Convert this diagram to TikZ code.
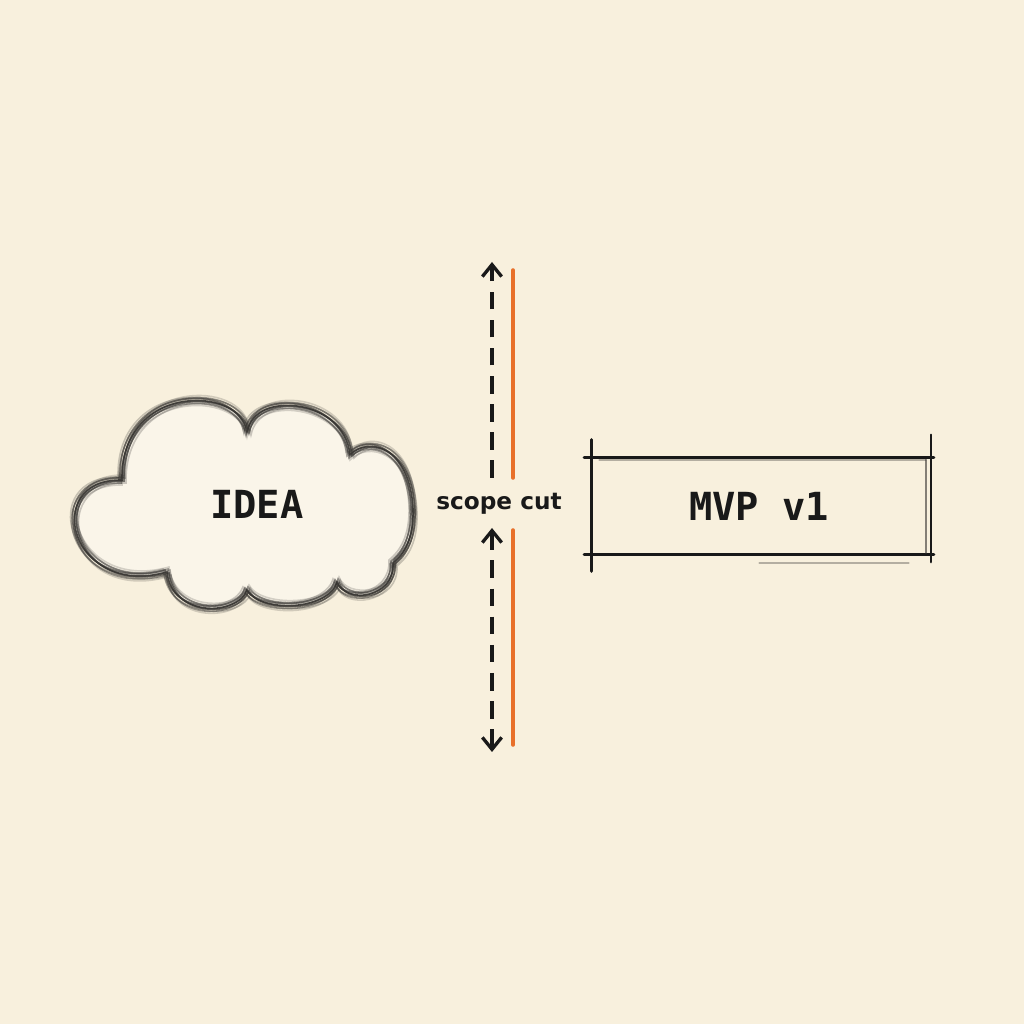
\documentclass[tikz,border=0pt]{standalone}
\usepackage{fontspec}
\usetikzlibrary{arrows.meta}
\newfontfamily\monofont{DejaVu Sans Mono}
\newfontfamily\labelfont{DejaVu Sans}
\definecolor{paper}{RGB}{248,240,221}
\definecolor{ink}{RGB}{25,25,25}
\definecolor{pencil}{RGB}{55,53,50}
\definecolor{cut}{RGB}{232,112,42}
\definecolor{cloudfill}{RGB}{250,245,233}
\tikzset{
  sketch/.style={draw=pencil, line width=0.45pt, line cap=round},
  faint/.style={draw=pencil, line width=0.5pt, opacity=0.35, line cap=round},
  boxline/.style={draw=ink, line width=0.9pt, line cap=round},
  dimarrow/.style={draw=ink, line width=0.95pt, dash pattern=on 5pt off 3pt},
  barbtip/.tip={Straight Barb[length=3.4pt,width=5.5pt,line width=0.95pt]},
  cutline/.style={draw=cut, line width=1pt, line cap=round},
  bigtext/.style={font=\monofont\bfseries\fontsize{11}{13}\selectfont, text=ink},
  smalltext/.style={font=\labelfont\bfseries\fontsize{6.6}{8}\selectfont, text=ink},
}
\def\cloudpath{(122,544) .. controls (120,640) and (240,640) .. (247,592)
  .. controls (255,635) and (345,625) .. (350,569)
  .. controls (368,588) and (410,578) .. (413,515)
  .. controls (414,485) and (404,470) .. (393,461)
  .. controls (395,425) and (345,420) .. (337,442)
  .. controls (328,412) and (258,412) .. (247,434)
  .. controls (238,408) and (172,406) .. (167,452)
  .. controls (70,425) and (40,545) .. cycle}
\begin{document}
\begin{tikzpicture}[x=0.01cm,y=0.01cm]
\fill[paper] (0,0) rectangle (1024,1024);
\useasboundingbox (0,0) rectangle (1024,1024);
% cloud
\fill[cloudfill] \cloudpath;
\foreach \dx/\dy/\op in {0/0/0.9, 2/-1/0.7, -2/2/0.6, 1/3/0.45, -1/-3/0.5, 3/2/0.35, -3/-1/0.4, 4/-3/0.25, -4/3/0.25, 0/-5/0.2, 2/5/0.2}
  \draw[sketch, opacity=\op, shift={(\dx,\dy)}] \cloudpath;
\node[bigtext] (idea) at (257,520) {IDEA};
% scope cut
\node[smalltext] (scope) at (499,520) {scope cut};
\coordinate (ta) at (492,546);
\coordinate (tb) at (492,762);
\coordinate (ba) at (492,496);
\coordinate (bb) at (492,272);
\draw[dimarrow, -barbtip] (ta) -- (tb);
\draw[dimarrow, barbtip-barbtip] (ba) -- (bb);
\coordinate (oa) at (513,754);
\coordinate (ob) at (513,546);
\coordinate (oc) at (513,494);
\coordinate (od) at (513,279);
\draw[cutline] (oa) -- (ob);
\draw[cutline] (oc) -- (od);
% MVP box
\node[bigtext, minimum width=3.38cm, minimum height=0.95cm, inner sep=0pt] (mvp) at (759,518) {MVP v1};
\draw[boxline] ([xshift=-0.05cm]mvp.north west) -- ([xshift=0.05cm]mvp.north east);
\draw[faint] ([xshift=0.1cm,yshift=-0.02cm]mvp.north west) -- ([xshift=-0.03cm,yshift=-0.02cm]mvp.north east);
\draw[boxline] ([xshift=-0.05cm]mvp.south west) -- ([xshift=0.05cm]mvp.south east);
\draw[faint] ([xshift=1.7cm,yshift=-0.09cm]mvp.south west) -- ([xshift=-0.2cm,yshift=-0.09cm]mvp.south east);
\draw[boxline] ([xshift=0.02cm,yshift=0.18cm]mvp.north west) -- ([xshift=0.02cm,yshift=-0.17cm]mvp.south west);
\draw[boxline, line width=0.6pt] ([xshift=0.02cm,yshift=0.23cm]mvp.north east) -- ([xshift=0.02cm,yshift=-0.08cm]mvp.south east);
\draw[faint, opacity=0.6] ([xshift=-0.03cm,yshift=-0.02cm]mvp.north east) -- ([xshift=-0.03cm,yshift=0.01cm]mvp.south east);
\end{tikzpicture}
\end{document}
